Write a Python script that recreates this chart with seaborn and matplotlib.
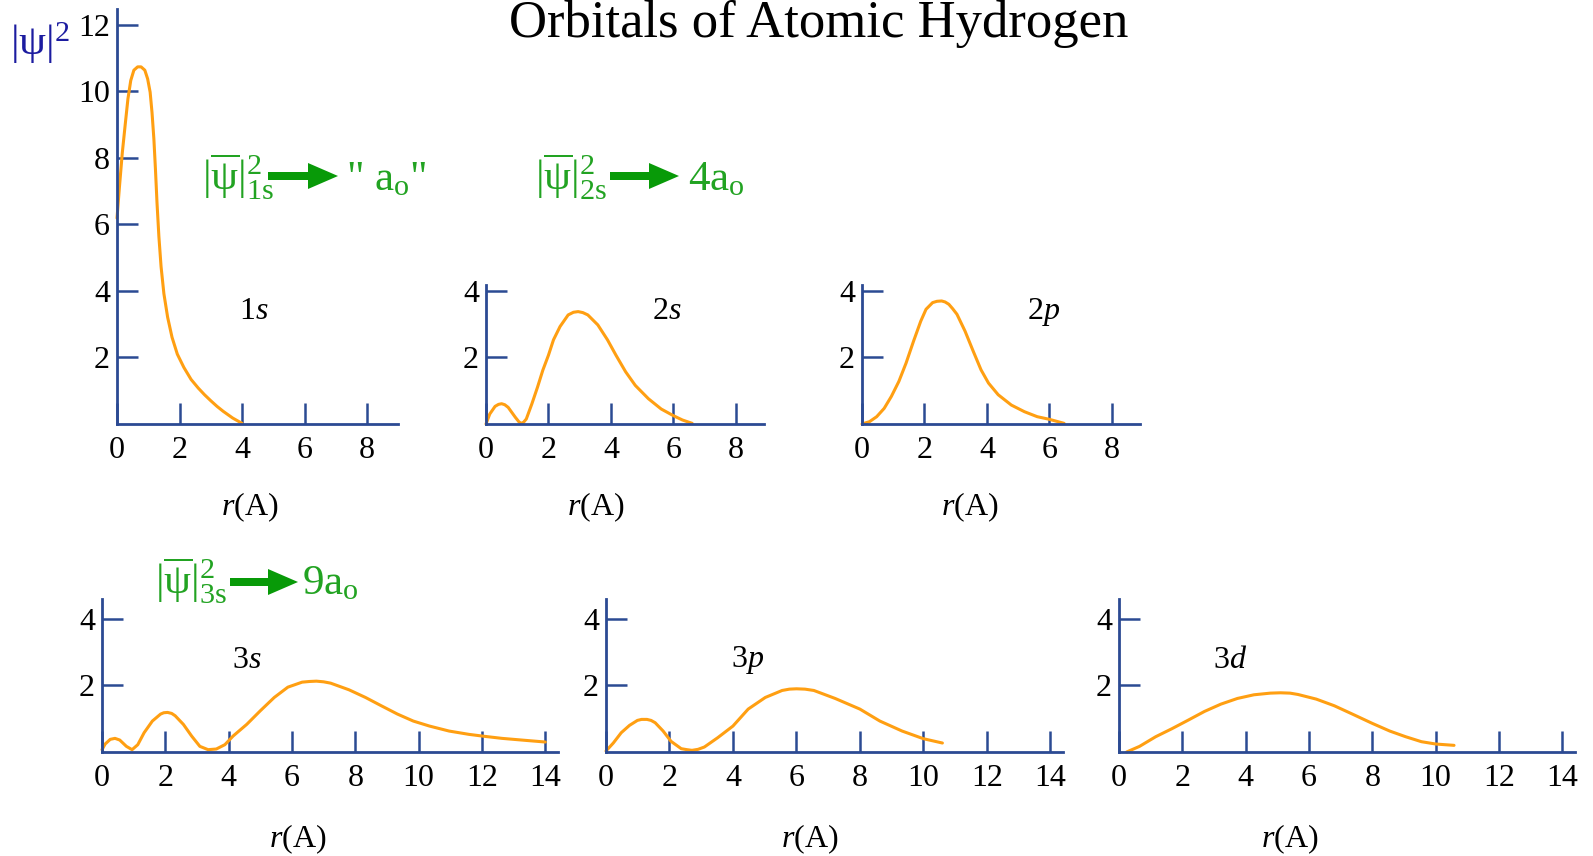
import matplotlib
matplotlib.use("Agg")
import matplotlib.pyplot as plt
import seaborn as sns
import pandas as pd
from matplotlib.patches import FancyArrow

# ---------------- data ----------------
r_1s = [0, 0.08, 0.17, 0.27, 0.35, 0.44, 0.54, 0.66, 0.77, 0.89, 0.98, 1.06, 1.12,
        1.18, 1.23, 1.28, 1.34, 1.41, 1.50, 1.62, 1.76, 1.93, 2.14, 2.37, 2.6, 2.8,
        3.0, 3.2, 3.4, 3.7, 4.0]
p_1s = [6.19, 7.15, 8.16, 9.07, 9.78, 10.33, 10.64, 10.74, 10.74, 10.64, 10.38, 9.98,
        9.37, 8.57, 7.66, 6.65, 5.64, 4.73, 3.92, 3.21, 2.61, 2.10, 1.70, 1.34, 1.08,
        0.88, 0.70, 0.53, 0.38, 0.18, 0.02]

r_2s = [0, 0.12, 0.29, 0.4, 0.5, 0.6, 0.71, 0.94, 1.05, 1.12, 1.2, 1.29, 1.47, 1.65,
        1.82, 2.0, 2.16, 2.37, 2.63, 2.8, 2.95, 3.1, 3.26, 3.58, 3.89, 4.16, 4.47,
        4.78, 5.2, 5.61, 6.0, 6.29, 6.6]
p_2s = [0, 0.30, 0.53, 0.59, 0.61, 0.58, 0.50, 0.20, 0.07, 0.02, 0.05, 0.15, 0.61,
        1.11, 1.62, 2.07, 2.53, 2.93, 3.28, 3.36, 3.38, 3.35, 3.28, 2.98, 2.53, 2.07,
        1.57, 1.16, 0.76, 0.45, 0.25, 0.12, 0.02]

r_2p = [0, 0.24, 0.47, 0.71, 0.94, 1.18, 1.41, 1.65, 1.88, 2.05, 2.26, 2.4, 2.55,
        2.66, 2.78, 2.9, 3.04, 3.3, 3.56, 3.81, 4.05, 4.36, 4.78, 5.2, 5.61, 6.0, 6.47]
p_2p = [0, 0.07, 0.22, 0.47, 0.83, 1.28, 1.83, 2.49, 3.09, 3.45, 3.65, 3.69, 3.70,
        3.67, 3.60, 3.47, 3.30, 2.79, 2.19, 1.63, 1.23, 0.88, 0.57, 0.37, 0.22, 0.14, 0.02]

r_3s = [0, 0.10, 0.26, 0.41, 0.56, 0.77, 0.95, 1.13, 1.33, 1.59, 1.85, 1.95, 2.07,
        2.2, 2.31, 2.57, 2.83, 3.09, 3.35, 3.61, 3.88, 4.14, 4.57, 5.0, 5.44, 5.87,
        6.32, 6.55, 6.77, 7.0, 7.22, 7.8, 8.32, 8.82, 9.33, 9.83, 10.34, 10.96, 11.59,
        12.0, 12.63, 13.37, 14.0]
p_3s = [0.07, 0.24, 0.38, 0.41, 0.36, 0.17, 0.07, 0.22, 0.58, 0.93, 1.14, 1.18, 1.19,
        1.16, 1.09, 0.83, 0.48, 0.17, 0.07, 0.09, 0.22, 0.48, 0.83, 1.24, 1.64, 1.95,
        2.10, 2.12, 2.13, 2.11, 2.07, 1.87, 1.64, 1.39, 1.14, 0.93, 0.78, 0.63, 0.53,
        0.48, 0.41, 0.35, 0.30]

r_3p = [0, 0.23, 0.48, 0.74, 0.99, 1.12, 1.29, 1.42, 1.55, 1.80, 2.05, 2.37, 2.55,
        2.71, 2.9, 3.1, 3.52, 4.0, 4.48, 5.02, 5.55, 5.78, 6.0, 6.27, 6.55, 7.22, 8.0,
        8.63, 9.33, 10.0, 10.6]
p_3p = [0.03, 0.27, 0.58, 0.80, 0.95, 0.98, 0.98, 0.95, 0.88, 0.63, 0.32, 0.10, 0.07,
        0.05, 0.08, 0.15, 0.43, 0.78, 1.29, 1.64, 1.85, 1.89, 1.90, 1.89, 1.85, 1.61,
        1.29, 0.93, 0.63, 0.40, 0.27]

r_3d = [0.24, 0.65, 1.16, 1.67, 2.19, 2.70, 3.22, 3.74, 4.26, 4.78, 5.10, 5.4, 5.65,
        6.23, 6.8, 7.37, 8.0, 8.55, 9.05, 9.55, 10.0, 10.58]
p_3d = [0.0, 0.17, 0.46, 0.70, 0.96, 1.22, 1.44, 1.61, 1.72, 1.77, 1.78, 1.77, 1.73,
        1.59, 1.39, 1.14, 0.86, 0.63, 0.46, 0.31, 0.24, 0.20]

xticks_top = [0, 2, 4, 6, 8]
xticks_bottom = [0, 2, 4, 6, 8, 10, 12, 14]
yticks_1s = [2, 4, 6, 8, 10, 12]
yticks_small = [2, 4]
orbital_labels = ["1$\\mathit{s}$", "2$\\mathit{s}$", "2$\\mathit{p}$",
                  "3$\\mathit{s}$", "3$\\mathit{p}$", "3$\\mathit{d}$"]
xlabel = "$\\mathit{r}$(A)"
title = "Orbitals of Atomic Hydrogen"
ylabel = "$|\\mathrm{\\psi}|^{2}$"
formulas = ["$|\\overline{\\mathrm{\\psi}}|^{2}_{\\mathrm{1s}}$",
            "$|\\overline{\\mathrm{\\psi}}|^{2}_{\\mathrm{2s}}$",
            "$|\\overline{\\mathrm{\\psi}}|^{2}_{\\mathrm{3s}}$"]
radii = ["\" a$_{\\mathrm{o}}$\"", "4a$_{\\mathrm{o}}$", "9a$_{\\mathrm{o}}$"]

# ---------------- style ----------------
sns.set_theme(style="white")
plt.rcParams["font.family"] = ["Liberation Serif", "DejaVu Serif"]
plt.rcParams["mathtext.fontset"] = "custom"
plt.rcParams["mathtext.rm"] = "Liberation Serif"
plt.rcParams["mathtext.it"] = "Liberation Serif:italic"
plt.rcParams["mathtext.bf"] = "Liberation Serif:bold"

ORANGE = "#ff9f12"
AXIS = "#2b4a93"
GREEN_T = "#22a322"
GREEN_A = "#089a08"
BLUE = "#1c1ca0"

W, H = 1593, 856
fig = plt.figure(figsize=(W / 100, H / 100), dpi=100)
fig.patch.set_facecolor("white")


def px_axes(left, bottom, right, top):
    return fig.add_axes([left / W, 1 - bottom / H, (right - left) / W, (bottom - top) / H])


def ftext(x, y, s, **kw):
    fig.text(x / W, 1 - y / H, s, **kw)


# pixel boxes (left, bottom, right, top) and axis limits
panels = [
    (r_1s, p_1s, (117, 424, 398, 9), 8.99, 12.48, xticks_top, yticks_1s),
    (r_2s, p_2s, (486, 424, 764, 285), 8.9, 4.18, xticks_top, yticks_small),
    (r_2p, p_2p, (862, 424, 1140, 285), 8.9, 4.18, xticks_top, yticks_small),
    (r_3s, p_3s, (102, 752, 558, 599), 14.4, 4.6, xticks_bottom, yticks_small),
    (r_3p, p_3p, (606, 752, 1063, 599), 14.4, 4.6, xticks_bottom, yticks_small),
    (r_3d, p_3d, (1119, 752, 1575, 599), 14.4, 4.6, xticks_bottom, yticks_small),
]

for r, p, box, xmax, ymax, xt, yt in panels:
    ax = px_axes(*box)
    ax.set_facecolor("none")
    df = pd.DataFrame({"r": r, "p": p})
    sns.lineplot(data=df, x="r", y="p", ax=ax, color=ORANGE, linewidth=2.2)
    ax.lines[-1].set_clip_on(False)
    ax.lines[-1].set_solid_joinstyle("round")
    ax.set_xlim(0, xmax)
    ax.set_ylim(0, ymax)
    ax.set_xlabel("")
    ax.set_ylabel("")
    for s in ("top", "right"):
        ax.spines[s].set_visible(False)
    for s in ("left", "bottom"):
        ax.spines[s].set_color(AXIS)
        ax.spines[s].set_linewidth(2.0)
    ax.set_xticks(xt)
    ax.set_xticklabels([str(v) for v in xt])
    ax.set_yticks(yt)
    ax.set_yticklabels([str(v) for v in yt])
    ax.tick_params(axis="x", bottom=True, direction="in", length=15, width=1.8,
                   color=AXIS, labelsize=23, pad=9, labelcolor="black")
    ax.tick_params(axis="y", left=True, direction="in", length=15, width=1.8,
                   color=AXIS, labelsize=23, pad=5, labelcolor="black")
    ax.grid(False)

# title and axis texts
ftext(819, 37, title, ha="center", va="baseline", fontsize=38, color="black")
ftext(10, 43, ylabel, ha="left", va="center", fontsize=31, color=BLUE)

label_pos = [(254, 312), (667, 312), (1044, 312), (247, 660), (748, 660), (1230, 660)]
for (x, y), lab in zip(label_pos, orbital_labels):
    ftext(x, y, lab, ha="center", va="center", fontsize=23, color="black")

xlab_pos = [(250, 507), (596, 507), (970, 507), (298, 839), (810, 839), (1290, 839)]
for x, y in xlab_pos:
    ftext(x, y, xlabel, ha="center", va="center", fontsize=23, color="black")

# green annotations: formula, arrow, radius
ann = [((202, 191), (268, 338, 176), (346, 190)),
       ((535, 191), (610, 679, 176), (688, 190)),
       ((155, 595), (230, 298, 582), (302, 594))]
for (fpos, apos, rpos), f, rad in zip(ann, formulas, radii):
    ftext(fpos[0], fpos[1], f, ha="left", va="baseline", fontsize=31, color=GREEN_T)
    ftext(rpos[0], rpos[1], rad, ha="left", va="baseline", fontsize=31, color=GREEN_T)
    x0, x1, y = apos
    arr = FancyArrow(x0 / W, 1 - y / H, (x1 - x0) / W, 0, width=8 / H,
                     head_width=26 / H, head_length=30 / W, length_includes_head=True,
                     transform=fig.transFigure, color=GREEN_A, linewidth=0)
    fig.add_artist(arr)

fig.savefig("out.png", dpi=100, facecolor="white")
